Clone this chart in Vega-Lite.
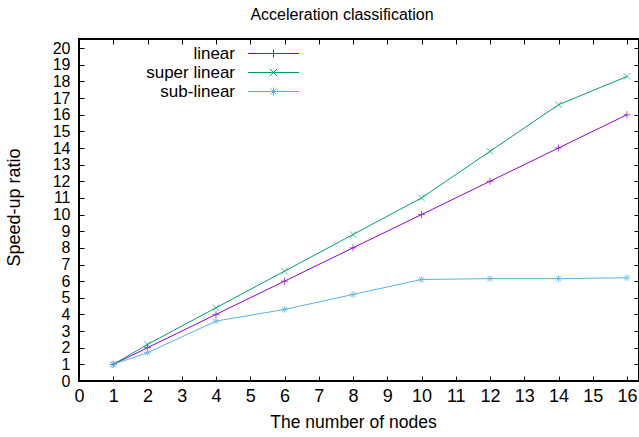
{
  "$schema": "https://vega.github.io/schema/vega-lite/v6.json",
  "width": 560,
  "height": 342,
  "autosize": {"type": "none"},
  "padding": {"left": 79, "top": 39, "right": 0, "bottom": 56},
  "background": "white",
  "title": {"text": "Acceleration classification", "fontSize": 16, "font": "Liberation Sans", "fontWeight": "normal", "color": "#000", "offset": 16, "dx": -17},
  "data": {"values": [
    {"nodes": 1, "ratio": 1, "series": "linear"},
    {"nodes": 2, "ratio": 2, "series": "linear"},
    {"nodes": 4, "ratio": 4, "series": "linear"},
    {"nodes": 6, "ratio": 6, "series": "linear"},
    {"nodes": 8, "ratio": 8, "series": "linear"},
    {"nodes": 10, "ratio": 10, "series": "linear"},
    {"nodes": 12, "ratio": 12, "series": "linear"},
    {"nodes": 14, "ratio": 14, "series": "linear"},
    {"nodes": 16, "ratio": 16, "series": "linear"},
    {"nodes": 1, "ratio": 1, "series": "super linear"},
    {"nodes": 2, "ratio": 2.2, "series": "super linear"},
    {"nodes": 4, "ratio": 4.4, "series": "super linear"},
    {"nodes": 6, "ratio": 6.6, "series": "super linear"},
    {"nodes": 8, "ratio": 8.8, "series": "super linear"},
    {"nodes": 10, "ratio": 11, "series": "super linear"},
    {"nodes": 12, "ratio": 13.8, "series": "super linear"},
    {"nodes": 14, "ratio": 16.6, "series": "super linear"},
    {"nodes": 16, "ratio": 18.3, "series": "super linear"},
    {"nodes": 1, "ratio": 1, "series": "sub-linear"},
    {"nodes": 2, "ratio": 1.7, "series": "sub-linear"},
    {"nodes": 4, "ratio": 3.6, "series": "sub-linear"},
    {"nodes": 6, "ratio": 4.3, "series": "sub-linear"},
    {"nodes": 8, "ratio": 5.2, "series": "sub-linear"},
    {"nodes": 10, "ratio": 6.1, "series": "sub-linear"},
    {"nodes": 12, "ratio": 6.15, "series": "sub-linear"},
    {"nodes": 14, "ratio": 6.15, "series": "sub-linear"},
    {"nodes": 16, "ratio": 6.2, "series": "sub-linear"}
  ]},
  "encoding": {
    "color": {"field": "series", "type": "nominal",
              "scale": {"domain": ["linear", "super linear", "sub-linear"], "range": ["#9400d3", "#009e73", "#56b4e9"]},
              "legend": {"title": null, "orient": "none", "legendX": 186, "legendY": 6, "padding": 0, "rowPadding": 1,
                         "labelFontSize": 17, "labelFont": "Liberation Sans", "labelColor": "#000", "labelAlign": "right", "labelOffset": -47,
                         "symbolSize": 64, "symbolStrokeWidth": 1, "symbolFillColor": "transparent", "symbolOpacity": 1,
                         "encode": {"symbols": {"update": {"stroke": {"signal": "datum.value == 'linear' ? '#9400d3' : datum.value == 'super linear' ? '#009e73' : '#56b4e9'"}, "opacity": {"value": 1}, "strokeOpacity": {"value": 1}}}}}}
  },
  "layer": [
    {
      "mark": {"type": "line", "strokeWidth": 1},
      "encoding": {
        "x": {"field": "nodes", "type": "quantitative", "scale": {"domain": [0, 16.35], "nice": false, "zero": false},
              "axis": {"orient": "bottom", "values": [0,1,2,3,4,5,6,7,8,9,10,11,12,13,14,15,16], "title": "The number of nodes", "tickSize": -5, "labelPadding": 11, "titlePadding": 8, "labelFlush": false, "labelOverlap": false, "titleX": 274, "titleFontSize": 17.5}},
        "y": {"field": "ratio", "type": "quantitative", "scale": {"domain": [0, 20.55], "nice": false, "zero": false},
              "axis": {"orient": "left", "values": [0,1,2,3,4,5,6,7,8,9,10,11,12,13,14,15,16,17,18,19,20], "title": "Speed-up ratio", "tickSize": -5, "labelPadding": 14, "titlePadding": 29, "labelFlush": false, "labelOverlap": false, "labelFontSize": 16, "titleY": 168}}
      }
    },
    {
      "transform": [{"filter": "datum.series == 'linear'"}],
      "mark": {"type": "point", "filled": false, "size": 50, "strokeWidth": 1, "shape": "M-1,0L1,0M0,-1L0,1"},
      "encoding": {
        "x": {"field": "nodes", "type": "quantitative", "axis": null},
        "y": {"field": "ratio", "type": "quantitative", "axis": null}
      }
    },
    {
      "transform": [{"filter": "datum.series == 'super linear'"}],
      "mark": {"type": "point", "filled": false, "size": 50, "strokeWidth": 1, "shape": "M-0.9,-0.9L0.9,0.9M-0.9,0.9L0.9,-0.9"},
      "encoding": {
        "x": {"field": "nodes", "type": "quantitative", "axis": null},
        "y": {"field": "ratio", "type": "quantitative", "axis": null}
      }
    },
    {
      "transform": [{"filter": "datum.series == 'sub-linear'"}],
      "mark": {"type": "point", "filled": false, "size": 50, "strokeWidth": 1, "shape": "M-1,0L1,0M0,-1L0,1M-0.75,-0.75L0.75,0.75M-0.75,0.75L0.75,-0.75"},
      "encoding": {
        "x": {"field": "nodes", "type": "quantitative", "axis": null},
        "y": {"field": "ratio", "type": "quantitative", "axis": null}
      }
    },
    {
      "mark": {"type": "point", "opacity": 0, "filled": false},
      "encoding": {
        "x": {"field": "nodes", "type": "quantitative",
              "axis": {"orient": "top", "values": [0,1,2,3,4,5,6,7,8,9,10,11,12,13,14,15,16], "labels": false, "title": null, "tickSize": -5}},
        "y": {"field": "ratio", "type": "quantitative",
              "axis": {"orient": "right", "values": [0,1,2,3,4,5,6,7,8,9,10,11,12,13,14,15,16,17,18,19,20], "labels": false, "title": null, "tickSize": -5}},
        "shape": {"field": "series", "type": "nominal",
                  "scale": {"domain": ["linear", "super linear", "sub-linear"],
                            "range": ["M-6.4,0L6.4,0M-1,0L1,0M0,-1L0,1", "M-6.4,0L6.4,0M-0.9,-0.9L0.9,0.9M-0.9,0.9L0.9,-0.9", "M-6.4,0L6.4,0M-1,0L1,0M0,-1L0,1M-0.75,-0.75L0.75,0.75M-0.75,0.75L0.75,-0.75"]},
                  "legend": {"title": null, "orient": "none", "legendX": 186, "legendY": 6, "padding": 0, "rowPadding": 1,
                         "labelFontSize": 17, "labelFont": "Liberation Sans", "labelColor": "#000", "labelAlign": "right", "labelOffset": -47,
                         "symbolSize": 64, "symbolStrokeWidth": 1, "symbolFillColor": "transparent", "symbolOpacity": 1,
                         "encode": {"symbols": {"update": {"stroke": {"signal": "datum.value == 'linear' ? '#9400d3' : datum.value == 'super linear' ? '#009e73' : '#56b4e9'"}, "opacity": {"value": 1}, "strokeOpacity": {"value": 1}}}}}}
      }
    }
  ],
  "resolve": {"axis": {"x": "independent", "y": "independent"}},
  "config": {
    "view": {"stroke": "#000", "strokeWidth": 2},
    "axis": {"grid": false, "domain": false, "tickColor": "#000", "tickWidth": 1, "labelFont": "Liberation Sans", "labelFontSize": 18, "labelColor": "#000",
             "titleFont": "Liberation Sans", "titleFontSize": 18, "titleFontWeight": "normal", "titleColor": "#000"}
  }
}
